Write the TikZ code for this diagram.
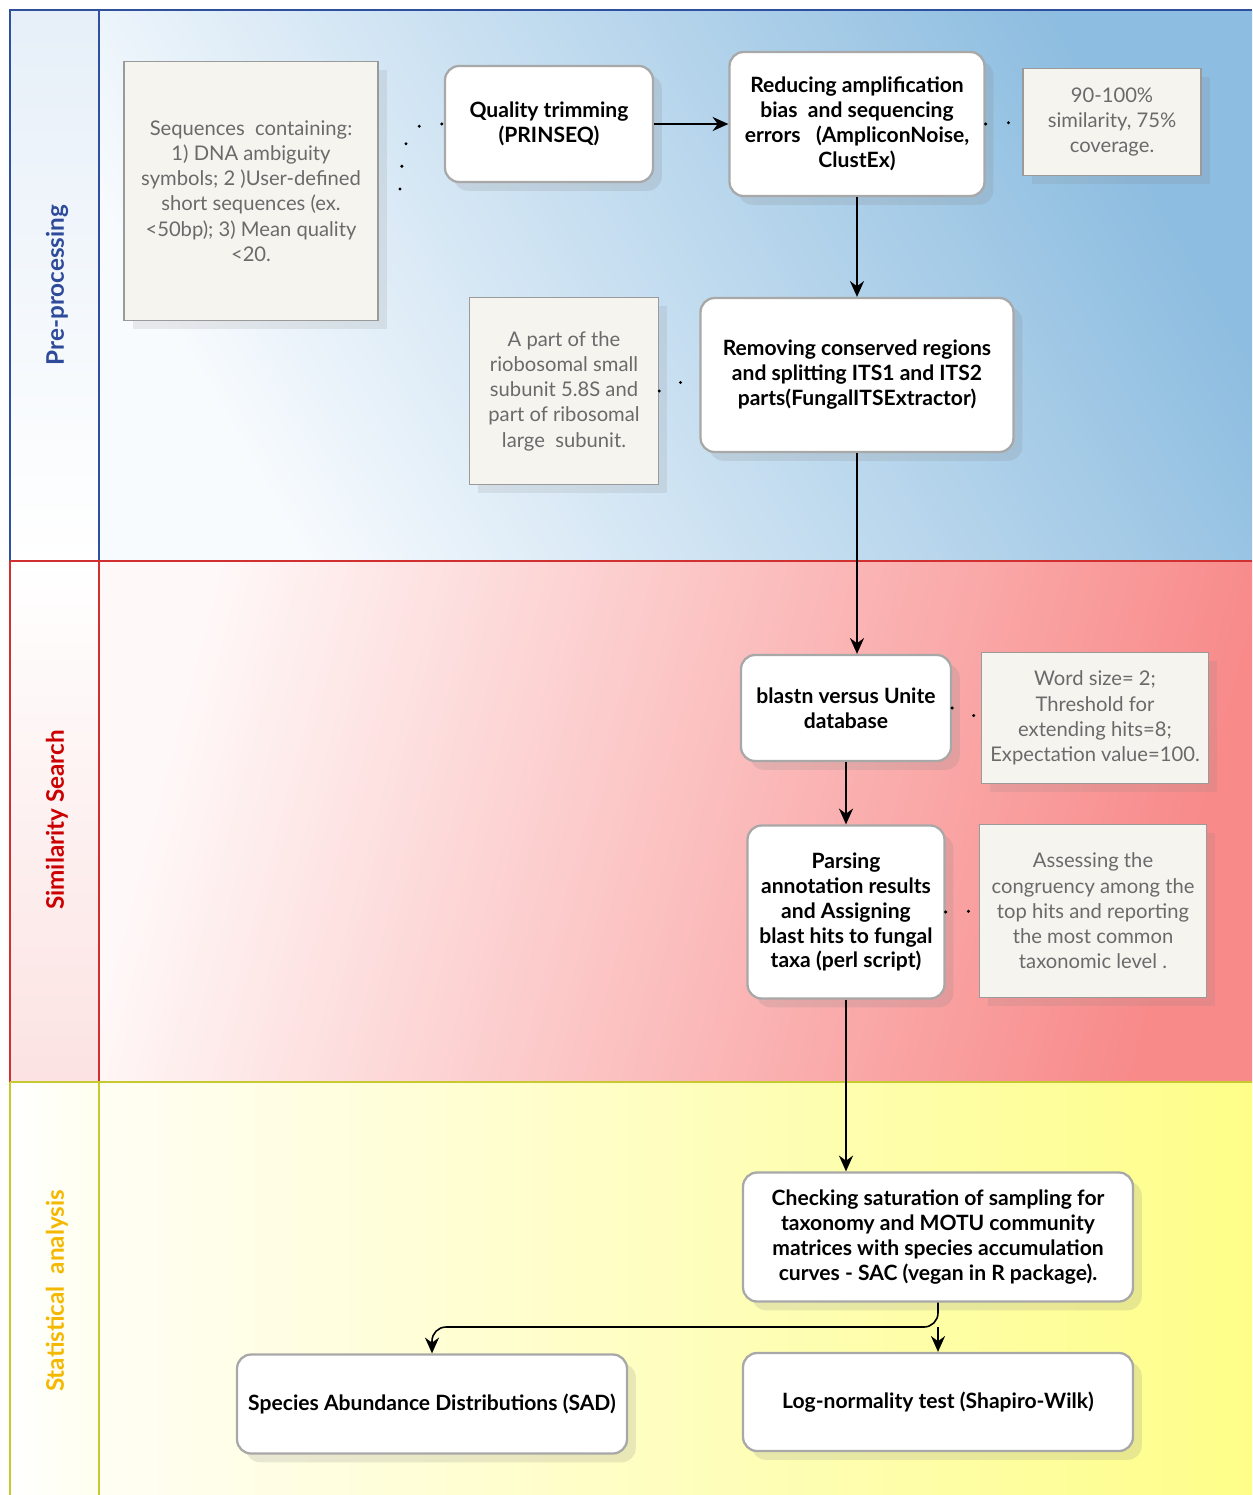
\documentclass[tikz,border=0pt]{standalone}
\usepackage{fontspec}
\setmainfont{Lato}
\usetikzlibrary{shadows,arrows.meta}
\definecolor{laneA}{HTML}{2F4F9F}
\definecolor{laneB}{HTML}{D03030}
\definecolor{laneC}{HTML}{C8C830}
\definecolor{labA}{HTML}{2E4A9A}
\definecolor{labB}{HTML}{CC0000}
\definecolor{labC}{HTML}{F5B800}
\definecolor{procborder}{HTML}{A8A8A8}
\definecolor{noteborder}{HTML}{9A9A9A}
\definecolor{notefill}{HTML}{F6F4EF}
\definecolor{notetext}{HTML}{6A6A6A}
\definecolor{blueR}{HTML}{8DBDE0}
\definecolor{blueL}{HTML}{F8FBFE}
\definecolor{redR}{HTML}{F88A8A}
\definecolor{redL}{HTML}{FFF8F8}
\definecolor{yelR}{HTML}{FEFE88}
\definecolor{yelL}{HTML}{FFFEF4}
\definecolor{hA}{HTML}{E6EFF8}
\definecolor{hB}{HTML}{FCE2E2}
\definecolor{hC}{HTML}{FFFFEE}
\tikzset{
  proc/.style={draw=procborder, line width=1.3pt, rounded corners=8pt, fill=white,
    align=center, inner sep=3pt, font=\bfseries\fontsize{12}{14.2}\selectfont,
    drop shadow={opacity=0.18, shadow xshift=5pt, shadow yshift=-5pt}},
  note/.style={draw=noteborder, line width=0.9pt, fill=notefill, align=center,
    inner sep=3pt, text=notetext, font=\fontsize{11.5}{14.4}\selectfont,
    drop shadow={opacity=0.15, shadow xshift=5pt, shadow yshift=-5pt}},
  flow/.style={-{Stealth[length=9pt,width=8pt]}, line width=0.9pt},
  dotline/.style={line width=1.9pt, line cap=round, dash pattern=on 0pt off 13pt},
  lanelab/.style={rotate=90, font=\bfseries\fontsize{13.8}{16}\selectfont}
}
\begin{document}
\begin{tikzpicture}[x=0.02cm, y=-0.02cm]
\useasboundingbox (0,0) rectangle (1252,1495);
% lane backgrounds
\shade[left color=blueL, right color=blueR, shading angle=120] (99,10) rectangle (1252,561);
\shade[left color=redL, right color=redR, shading angle=75] (99,561) rectangle (1252,1082);
\shade[left color=yelL, right color=yelR, shading angle=90] (99,1082) rectangle (1252,1495);
\shade[top color=hA, bottom color=white] (10,10) rectangle (99,561);
\shade[top color=white, bottom color=hB] (10,561) rectangle (99,1082);
\shade[left color=white, right color=hC] (10,1082) rectangle (99,1495);
% lane borders
\draw[laneA, line width=1.2pt] (10,1495) -- (10,10) -- (1252,10);
\draw[laneA, line width=1.2pt] (99,10) -- (99,561);
\draw[laneB, line width=1.2pt] (10,561) -- (1252,561);
\draw[laneB, line width=1.2pt] (10,561) -- (10,1082) (99,561) -- (99,1082);
\draw[laneC, line width=1.2pt] (10,1082) -- (1252,1082);
\draw[laneC, line width=1.2pt] (10,1082) -- (10,1495) (99,1082) -- (99,1495);
% lane labels
\node[lanelab, text=labA] (lab1) at (57,285) {Pre-processing};
\node[lanelab, text=labB] (lab2) at (57,820) {Similarity Search};
\node[lanelab, text=labC] (lab3) at (57,1291) {Statistical~~analysis};
% notes
\node[note, minimum width=5.08cm, minimum height=5.18cm] (seq) at (251,191)
  {Sequences~~containing:\\1) DNA ambiguity\\symbols; 2 )User-defined\\short sequences (ex.\\<50bp); 3) Mean quality\\<20.};
\node[note, minimum width=3.56cm, minimum height=2.14cm] (n90) at (1112,122)
  {90-100\%\\similarity, 75\%\\coverage.};
\node[note, minimum width=3.78cm, minimum height=3.74cm] (apart) at (564,391)
  {A part of the\\riobosomal small\\subunit 5.8S and\\part of ribosomal\\large~~subunit.};
\node[note, minimum width=4.54cm, minimum height=2.62cm] (word) at (1095,718)
  {Word size= 2;\\Threshold for\\extending hits=8;\\Expectation value=100.};
\node[note, minimum width=4.54cm, minimum height=3.46cm] (assess) at (1093,911)
  {Assessing the\\congruency among the\\top hits and reporting\\the most common\\taxonomic level .};
% process boxes
\node[proc, minimum width=4.16cm, minimum height=2.32cm] (qt) at (549,124)
  {Quality trimming\\(PRINSEQ)};
\node[proc, minimum width=5.1cm, minimum height=2.88cm] (red) at (857,124)
  {Reducing amplification\\bias~ and sequencing\\errors~~ (AmpliconNoise,\\ClustEx)};
\node[proc, minimum width=6.26cm, minimum height=3.08cm] (rem) at (857,375)
  {Removing conserved regions\\and splitting ITS1 and ITS2\\parts(FungalITSExtractor)};
\node[proc, minimum width=4.2cm, minimum height=2.12cm] (blastn) at (846,708)
  {blastn versus Unite\\database};
\node[proc, minimum width=3.94cm, minimum height=3.46cm] (pars) at (846,912)
  {Parsing\\annotation results\\and Assigning\\blast hits to fungal\\taxa (perl script)};
\node[proc, minimum width=7.8cm, minimum height=2.58cm] (check) at (938,1237)
  {Checking saturation of sampling for\\taxonomy and MOTU community\\matrices with species accumulation\\curves - SAC (vegan in R package).};
\node[proc, minimum width=7.8cm, minimum height=1.98cm] (sad) at (432,1404)
  {Species Abundance Distributions (SAD)};
\node[proc, minimum width=7.8cm, minimum height=1.96cm] (lognorm) at (938,1402)
  {Log-normality test (Shapiro-Wilk)};
% flow connectors
\draw[flow] (qt.east) -- (red.west);
\draw[flow] (red.south) -- (rem.north);
\draw[flow] (rem.south) -- (rem.south |- blastn.north);
\draw[flow] (blastn.south) -- (pars.north);
\draw[flow] (pars.south) -- (pars.south |- check.north);
\coordinate (br) at (938,1327);
\draw[flow, rounded corners=8pt] (check.south) -- (br) -| (sad.north);
\draw[flow] (br) -- (lognorm.north);
% dotted associations
\coordinate (seqdot) at (400,189);
\draw[dotline] (seqdot) .. controls (404,125) and (412,123) .. (qt.west);
\draw[dotline] (red.east) -- (n90.west);
\draw[dotline] (apart.east) -- (rem.west);
\draw[dotline] (blastn.east) -- (word.west);
\draw[dotline] (pars.east) -- (assess.west);
\end{tikzpicture}
\end{document}
